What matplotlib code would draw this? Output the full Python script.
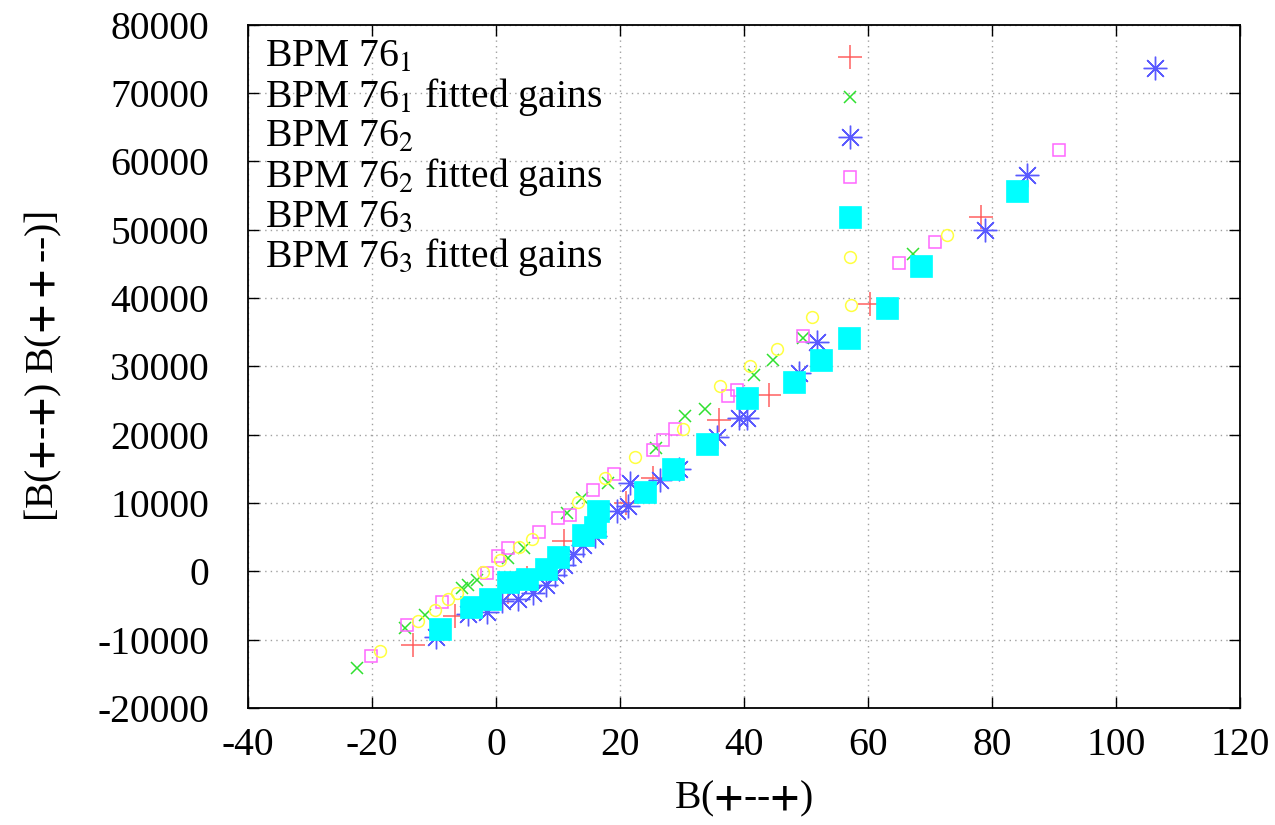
import numpy as np
import matplotlib
matplotlib.use('Agg')
import matplotlib.pyplot as plt

plt.rcParams['font.family'] = ['Liberation Serif', 'DejaVu Serif']
plt.rcParams['mathtext.fontset'] = 'stix'
plt.rcParams['axes.unicode_minus'] = False

# BPM 76_1 measured / fitted gains
red_x = [-13.4, -6.6, 2, 5, 11, 16, 21, 25.3, 36, 44, 60.3, 78.2]
red_y = [-10800, -6600, -3000, -1000, 4500, 5700, 10000, 13600, 22200, 25800, 39100, 51800]
green_x = [-22.4, -14.7, -11.5, -5.5, -4.5, -3, 1.9, 4.5, 11.4, 13.9, 18.1, 25.8, 30.5, 33.7, 41.6, 44.7, 49.5, 67.3]
green_y = [-14200, -8300, -6400, -2500, -2000, -1200, 2000, 3400, 8500, 10800, 13000, 18000, 22800, 23700, 28700, 30900, 34100, 46500]

# BPM 76_2 measured / fitted gains
blue_x = [-9.7, -4.5, -1.5, 1, 3.5, 6, 8, 9.5, 11, 12.5, 14, 16, 19.5, 21.3, 21.6, 26.5, 29.5, 35.6, 39.2, 40.5, 48.9, 51.8, 78.9, 85.6, 106.3]
blue_y = [-9600, -6300, -6000, -4300, -4100, -3100, -2000, -500, 1000, 2500, 3800, 5200, 8900, 9500, 12900, 13300, 15000, 19600, 22400, 22400, 29000, 33500, 50000, 58000, 73600]
mag_x = [-20.2, -14.4, -8.7, -1.5, 0.3, 1.9, 6.9, 10, 12, 15.6, 19, 25.3, 26.9, 28.9, 37.4, 38.8, 49.5, 65, 70.8, 90.8]
mag_y = [-12400, -7900, -4500, -300, 2200, 3400, 5700, 7800, 8300, 11900, 14200, 17800, 19200, 20900, 25600, 26600, 34500, 45200, 48200, 61600]

# BPM 76_3 measured / fitted gains
cyan_x = [-9, -4, -1, 2, 5, 8, 10, 14, 16, 16.5, 24, 28.5, 34, 40.5, 48, 52.5, 57, 63, 68.5, 84]
cyan_y = [-8400, -5200, -4000, -1500, -1100, 400, 2100, 5300, 6500, 8900, 11600, 15000, 18700, 25300, 27700, 31000, 34200, 38500, 44700, 55600]
yel_x = [-18.7, -12.6, -9.8, -7.7, -6.3, -2.1, 0.6, 3.7, 5.8, 13.2, 17.6, 22.4, 30.2, 36.1, 41, 45.3, 51, 57.3, 72.7]
yel_y = [-11700, -7300, -5600, -4100, -3200, -100, 1600, 3500, 4800, 10100, 13600, 16700, 20800, 27100, 30000, 32500, 37200, 39000, 49200]

labels = [r'BPM 76$_1$', r'BPM 76$_1$ fitted gains', r'BPM 76$_2$',
          r'BPM 76$_2$ fitted gains', r'BPM 76$_3$', r'BPM 76$_3$ fitted gains']

styles = [
    dict(marker='+', ms=17, mew=1.1, mec='#ff6060', mfc='none'),
    dict(marker='x', ms=8, mew=1.1, mec='#30e030', mfc='none'),
    dict(marker=(8, 2, 0), ms=17, mew=1.0, mec='#5a5aff', mfc='none'),
    dict(marker='s', ms=9, mew=1.1, mec='#ff66ff', mfc='none'),
    dict(marker='s', ms=16.5, mew=0.5, mec='#00ffff', mfc='#00ffff'),
    dict(marker='o', ms=8.5, mew=1.1, mec='#ffff40', mfc='none'),
]
series = [(red_x, red_y), (green_x, green_y), (blue_x, blue_y),
          (mag_x, mag_y), (cyan_x, cyan_y), (yel_x, yel_y)]

FS = 28.5

fig = plt.figure(figsize=(12.75, 8.25), dpi=100)
ax = fig.add_axes([0.1945, 0.1418, 0.778, 0.8282])

for (xs, ys), st in zip(series, styles):
    ax.plot(xs, ys, ls='none', **st)

ax.set_xlim(-40, 120)
ax.set_ylim(-20000, 80000)
ax.set_xticks(np.arange(-40, 121, 20))
ax.set_yticks(np.arange(-20000, 80001, 10000))
ax.grid(True, color='#a0a0a0', ls=(0, (1, 3)), lw=1.0)
ax.tick_params(direction='in', length=8, width=1, top=True, right=True,
               labelsize=FS)
ax.tick_params(axis='y', pad=28)
ax.tick_params(axis='x', pad=14)
for sp in ax.spines.values():
    sp.set_linewidth(1.3)

ax.set_xlabel(r'B($\mathbf{+}$--$\mathbf{+}$)', fontsize=FS, labelpad=10)
ax.set_ylabel(r'[B($\mathbf{+}$-$\mathbf{+}$) B($\mathbf{++}$--)]', fontsize=FS, labelpad=24)

# key: text on the left, sample marker in a column on the right
for i, (lab, st) in enumerate(zip(labels, styles)):
    yy = 0.953 - i * 0.0586
    ax.text(0.017, yy, lab, transform=ax.transAxes, fontsize=FS,
            va='center', ha='left')
    ax.plot([0.607], [yy], transform=ax.transAxes, ls='none', clip_on=False, **st)

fig.savefig('out.png', dpi=100)
